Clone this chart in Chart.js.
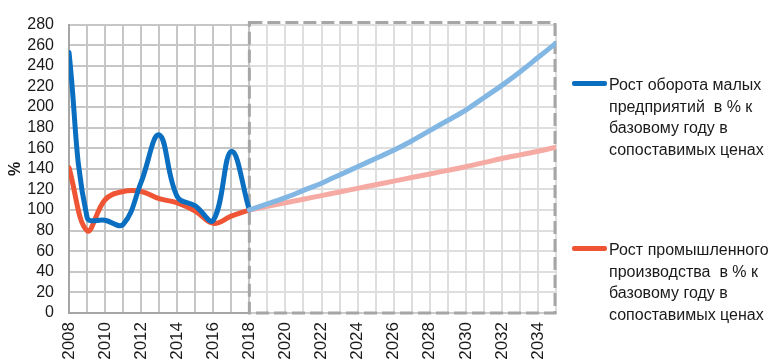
<!DOCTYPE html>
<html><head><meta charset="utf-8">
<script src="https://cdn.jsdelivr.net/npm/chart.js@4.4.1/dist/chart.umd.min.js"></script>
<style>
html,body{margin:0;padding:0;background:#fff;overflow:hidden;}
#wrap{position:relative;width:774px;height:362px;overflow:hidden;}
canvas{position:absolute;left:0;top:0;}
.leg{position:absolute;left:572px;font-family:"Liberation Sans",Arial,sans-serif;font-size:16px;line-height:21.5px;color:#1a1a1a;white-space:pre;}
.leg .sw{position:absolute;left:0;width:35px;height:5px;border-radius:2px;}
.leg .tx{position:absolute;left:37px;top:0;}
</style></head><body>
<div id="wrap"><canvas id="c" width="774" height="362"></canvas>
<div class="leg" style="top:74px"><div class="sw" style="top:6.5px;background:#0b6fc1"></div><div class="tx">Рост оборота малых
предприятий  в % к
базовому году в
сопоставимых ценах</div></div>
<div class="leg" style="top:239px"><div class="sw" style="top:6.5px;background:#ef5535"></div><div class="tx">Рост промышленного
производства  в % к
базовому году в
сопоставимых ценах</div></div>
</div>
<script>
// Years
const yearsHist = [2008,2009,2010,2011,2012,2013,2014,2015,2016,2017,2018];
const yearsForecast = [2018,2019,2020,2021,2022,2023,2024,2025,2026,2027,2028,2029,2030,2031,2032,2033,2034,2035];
// Small business turnover growth, % of base year
const smallHist = [253,93,90,86,127,173,113,104,90,157,100];
const smallForecast = [100,106,112,119,126,134,142,150,158,167,177,187,197,209,221,234,248,262];
// Industrial production growth, % of base year
const indHist = [141,80,110,118,118,111,107,99,87,94,100];
const indForecast = [100,103.5,107,110.5,114,117.5,121,124.5,128,131.5,135,138.5,142,146,150,153.5,157,161];
// Axis settings
const yTicksMin = 0, yTicksMax = 280, yStep = 20;
const xMin = 2008, xMax = 2035;
const forecastStart = 2018, forecastEnd = 2035;

const pts = (xs, ys) => xs.map((x, i) => ({x: x, y: ys[i]}));

const forecastPlugin = {
  id: 'forecastBox',
  beforeDatasetsDraw(chart) {
    const {ctx, chartArea: a, scales: {x}} = chart;
    const x0 = x.getPixelForValue(forecastStart), x1 = x.getPixelForValue(forecastEnd);
    ctx.save();
    ctx.fillStyle = 'rgba(255,255,255,0.42)';
    ctx.fillRect(x0 + 1, a.top - 2, x1 - x0 + 2, a.bottom - a.top + 3);
    ctx.setLineDash([13, 5]);
    ctx.strokeStyle = '#a6a6a6';
    ctx.lineWidth = 3;
    ctx.strokeRect(x0, a.top - 2, x1 - x0 - 1, a.bottom - a.top + 2);
    ctx.restore();
  }
};

const ds = (data, color, tension) => ({
  data: data, borderColor: color, borderWidth: 5, pointRadius: 0, tension: tension,
  borderCapStyle: 'round', borderJoinStyle: 'round', fill: false
});

new Chart(document.getElementById('c'), {
  type: 'line',
  data: {
    datasets: [
      ds(pts(yearsForecast, smallForecast), '#82b7e3', 0.3),
      ds(pts(yearsForecast, indForecast), '#f5aba3', 0.3),
      ds(pts(yearsHist, smallHist), '#0b6fc1', 0.4),
      ds(pts(yearsHist, indHist), '#ef5535', 0.4)
    ]
  },
  options: {
    responsive: false, animation: false, devicePixelRatio: 1,
    layout: {padding: {top: 17, right: 218, left: 0, bottom: 0}},
    plugins: {legend: {display: false}, tooltip: {enabled: false}},
    scales: {
      x: {
        type: 'linear', min: xMin, max: xMax,
        afterFit: s => { s.height = 49; },
        grid: {color: '#c6c6c6', lineWidth: 2, drawTicks: false},
        border: {color: '#a6a6a6', width: 2},
        ticks: {
          stepSize: 1, autoSkip: false, maxRotation: 90, minRotation: 90, padding: 9,
          color: '#1a1a1a', font: {family: '"Liberation Sans", Arial, sans-serif', size: 17},
          callback: v => (v % 2 === 0 ? String(v) : '')
        }
      },
      y: {
        min: yTicksMin, max: yTicksMax,
        afterFit: s => { s.width = 69; },
        grid: {color: '#c6c6c6', lineWidth: 2, drawTicks: false},
        border: {color: '#a6a6a6', width: 2},
        title: {display: true, text: '%', color: '#1a1a1a', padding: {top: 6, bottom: 0},
          font: {family: '"Liberation Sans", Arial, sans-serif', size: 16, weight: 'bold'}},
        ticks: {stepSize: yStep, autoSkip: false, padding: 15, color: '#1a1a1a',
          font: {family: '"Liberation Sans", Arial, sans-serif', size: 16}}
      }
    }
  },
  plugins: [forecastPlugin]
});
</script>
</body></html>
